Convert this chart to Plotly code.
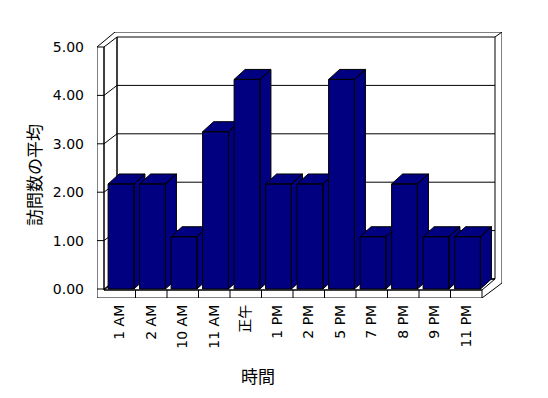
import plotly.graph_objects as go

# ---- data ----
categories = ["1 AM", "2 AM", "10 AM", "11 AM", "正午", "1 PM", "2 PM",
              "5 PM", "7 PM", "8 PM", "9 PM", "11 PM"]
values = [2.17, 2.17, 1.08, 3.25, 4.33, 2.17, 2.17, 4.33, 1.08, 2.17, 1.08, 1.08]
y_ticks = [0, 1, 2, 3, 4, 5]
y_tick_labels = ["0.00", "1.00", "2.00", "3.00", "4.00", "5.00"]
x_title = "時間"
y_title = "訪問数の平均"

# ---- style / geometry ----
BAR = "#000080"
EDGE = "black"
FONT = "DejaVu Sans, Noto Sans CJK JP, sans-serif"
CJK = "Noto Sans CJK JP, sans-serif"
# page has an 8px body margin: figure sized/offset so plot area lands at x 97..502, y 32..298
W, H = 532, 382
ML, MT = 89, 24
PW, PH = 405, 266
MR, MB = W - ML - PW, H - MT - PH
SX, SY = 31.5, 48.4          # pixels per unit (x category, y value)


def X(px):
    return (px - 104) / SX - 0.5


def Y(py):
    return (289 - py) / SY


BDX, BDY = 11 / SX, 10 / SY     # bar depth offset
BL, BR = -0.37, 0.45            # bar front face relative to category


def poly_trace(polys, fill="white", width=1, closed=True):
    xs, ys = [], []
    for p in polys:
        pts = list(p) + ([p[0]] if closed else [])
        xs += [q[0] for q in pts] + [None]
        ys += [q[1] for q in pts] + [None]
    return go.Scatter(x=xs, y=ys, mode="lines",
                      fill="toself" if fill else None,
                      fillcolor=fill if fill else None,
                      line=dict(color=EDGE, width=width),
                      hoverinfo="skip", showlegend=False, cliponaxis=False)


def P(px, py):
    return (X(px), Y(py))


fig = go.Figure()

# outer frame (white)
fig.add_trace(poly_trace([[P(97, 298), P(97, 47), P(115, 32), P(502, 32),
                           P(502, 283), P(482, 298)]]))
# inner faces: left wall, back wall, floor top, front slab
fig.add_trace(poly_trace([
    [P(104, 290), P(104, 47), P(117, 37), P(117, 279)],
    [P(117, 279), P(117, 37), P(495, 37), P(495, 279)],
    [P(104, 290), P(117, 279), P(495, 279), P(482, 290)],
    [P(97, 47), P(104, 47), P(104, 290), P(482, 290), P(482, 298), P(97, 298)],
]))
# corner diagonal top-right
fig.add_trace(poly_trace([[P(495, 37), P(502, 32)]], fill=None, closed=False))

# gridlines on walls
grid = []
for k in y_ticks[:-1]:
    yf = Y(289) + k
    yb = k + 10 / SY
    grid.append([(X(97), yf), (X(104), yf), (X(117), yb), (X(495), yb)])
fig.add_trace(poly_trace(grid, fill=None, closed=False))

# bars (3D)
for i, v in enumerate(values):
    x0, x1 = i + BL, i + BR
    side = [(x1, 0), (x1 + BDX, BDY), (x1 + BDX, v + BDY), (x1, v)]
    top = [(x0, v), (x1, v), (x1 + BDX, v + BDY), (x0 + BDX, v + BDY)]
    front = [(x0, 0), (x1, 0), (x1, v), (x0, v)]
    fig.add_trace(poly_trace([side, top, front], fill=BAR))

# floor front ticks at category boundaries
ticks = [[(i + 0.5, Y(290)), (i + 0.5, Y(298))] for i in range(len(categories) - 1)]
fig.add_trace(poly_trace(ticks, fill=None, closed=False))

fig.update_layout(
    width=W, height=H,
    margin=dict(l=ML, r=MR, t=MT, b=MB, autoexpand=False),
    paper_bgcolor="white", plot_bgcolor="white",
    showlegend=False,
    font=dict(family=FONT, size=14, color="black"),
    xaxis=dict(range=[X(97), X(502)], showgrid=False, zeroline=False,
               showline=False, tickmode="array", automargin=False,
               tickvals=list(range(len(categories))), ticktext=categories,
               tickangle=-90, ticks="", ticklabelstandoff=3,
               tickfont=dict(family=FONT, size=14), fixedrange=True),
    yaxis=dict(range=[Y(298), Y(32)], showgrid=False, zeroline=False,
               showline=False, tickmode="array", tickvals=y_ticks,
               ticktext=y_tick_labels, ticks="", ticklabelstandoff=12,
               automargin=False,
               tickfont=dict(family=FONT, size=14), fixedrange=True),
    annotations=[
        dict(text=x_title, xref="paper", yref="paper",
             x=(258 - 97) / PW, y=(298 - 375) / PH,
             xanchor="center", yanchor="middle", showarrow=False,
             font=dict(family=CJK, size=17)),
        dict(text=y_title, xref="paper", yref="paper",
             x=(33 - 97) / PW, y=(298 - 175) / PH,
             xanchor="center", yanchor="middle", showarrow=False,
             textangle=-90, font=dict(family=CJK, size=17)),
    ],
)

fig.write_html("out.html")
